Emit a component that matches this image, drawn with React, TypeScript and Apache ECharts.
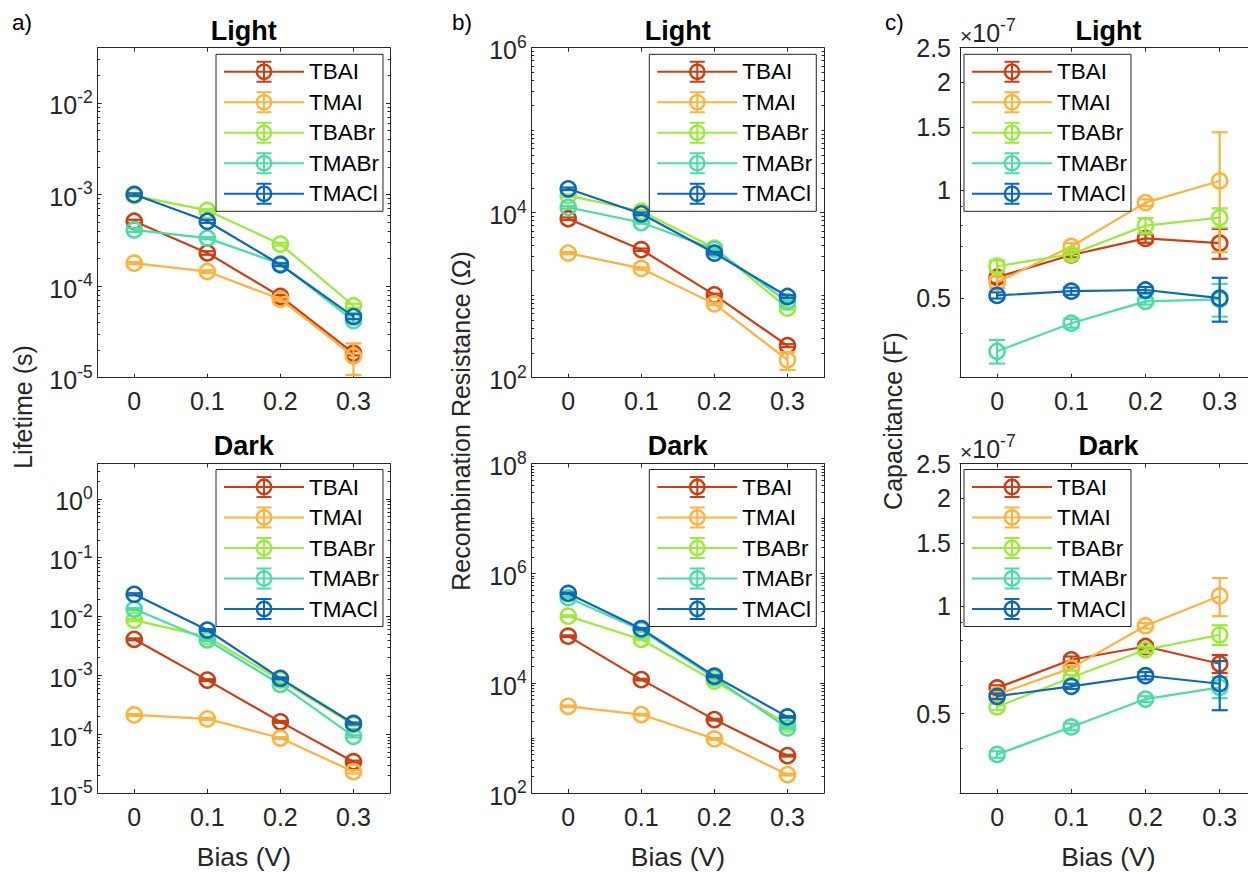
import React, { useEffect, useRef } from "react";
import * as echarts from "echarts";

// ---------- data ----------
const bias = [0, 0.1, 0.2, 0.3];
const materials = ["TBAI", "TMAI", "TBABr", "TMABr", "TMACl"];
const colors = ["#CF3E10", "#FFB23C", "#9CEA3A", "#4CDCA6", "#0C68B8"];

// Lifetime (s), rows follow `materials`
const tauLight = [
  [5.1e-4, 2.3e-4, 7.7e-5, 1.85e-5],
  [1.78e-4, 1.44e-4, 7.2e-5, 1.72e-5],
  [9.7e-4, 6.7e-4, 2.87e-4, 6.1e-5],
  [4.1e-4, 3.34e-4, 1.75e-4, 4.2e-5],
  [1.0e-3, 5.1e-4, 1.71e-4, 4.65e-5],
];
const tauLightErr = [
  [2e-5, 1e-5, 3e-6, 1e-6],
  [5e-6, 5e-6, 3e-6, 6.5e-6],
  [3e-5, 2e-5, 1e-5, 3e-6],
  [2e-5, 1e-5, 5e-6, 2e-6],
  [3e-5, 2e-5, 6e-6, 3e-6],
];
const tauDark = [
  [4.1e-3, 8.3e-4, 1.62e-4, 3.4e-5],
  [2.13e-4, 1.82e-4, 8.6e-5, 2.3e-5],
  [8.7e-3, 4.5e-3, 8.3e-4, 1.45e-4],
  [1.34e-2, 4.0e-3, 7.0e-4, 9.2e-5],
  [2.39e-2, 5.9e-3, 8.9e-4, 1.52e-4],
];
const tauDarkErr = [
  [1.5e-4, 3e-5, 6e-6, 1.5e-6],
  [8e-6, 7e-6, 3e-6, 1.5e-6],
  [4e-4, 2e-4, 3e-5, 6e-6],
  [5e-4, 1.5e-4, 3e-5, 4e-6],
  [1e-3, 2e-4, 3e-5, 6e-6],
];

// Recombination resistance (Ohm)
const rrecLight = [
  [8450, 3560, 1010, 245],
  [3240, 2110, 785, 164],
  [16100, 10400, 3730, 697],
  [11600, 7600, 3600, 838],
  [19500, 9700, 3240, 964],
];
const rrecLightErr = [
  [300, 120, 35, 10],
  [100, 70, 30, 40],
  [600, 400, 150, 25],
  [400, 250, 120, 30],
  [700, 350, 110, 35],
];
const rrecDark = [
  [71800, 11600, 2170, 479],
  [3790, 2680, 966, 216],
  [166000, 62500, 10900, 1800],
  [360000, 92500, 12500, 1530],
  [431000, 98000, 13400, 2430],
];
const rrecDarkErr = [
  [2500, 400, 80, 18],
  [130, 90, 35, 8],
  [6000, 2200, 400, 60],
  [12000, 3200, 450, 50],
  [15000, 3500, 480, 80],
];

// Capacitance (x 1e-7 F)
const capLight = [
  [0.572, 0.66, 0.734, 0.712],
  [0.554, 0.697, 0.924, 1.062],
  [0.614, 0.663, 0.797, 0.839],
  [0.3555, 0.4257, 0.49, 0.496],
  [0.509, 0.523, 0.527, 0.5],
];
const capLightErr = [
  [0.02, 0.01, 0.02, 0.068],
  [0.02, 0.015, 0.02, 0.39],
  [0.023, 0.02, 0.04, 0.052],
  [0.027, 0.012, 0.01, 0.052],
  [0.01, 0.012, 0.01, 0.07],
];
const capDark = [
  [0.59, 0.707, 0.77, 0.689],
  [0.565, 0.67, 0.88, 1.066],
  [0.522, 0.631, 0.754, 0.83],
  [0.3844, 0.459, 0.549, 0.592],
  [0.559, 0.596, 0.638, 0.606],
];
const capDarkErr = [
  [0.01, 0.015, 0.015, 0.04],
  [0.01, 0.01, 0.015, 0.13],
  [0.01, 0.01, 0.015, 0.053],
  [0.008, 0.01, 0.01, 0.04],
  [0.01, 0.01, 0.015, 0.095],
];

// tick labels
const xTicks = [0, 0.1, 0.2, 0.3];
const tauLightTicks = [1e-5, 1e-4, 1e-3, 1e-2];
const tauDarkTicks = [1e-5, 1e-4, 1e-3, 1e-2, 1e-1, 1];
const rrecLightTicks = [1e2, 1e4, 1e6];
const rrecDarkTicks = [1e2, 1e4, 1e6, 1e8];
const capTicks = [0.5, 1, 1.5, 2, 2.5];
const capMinorTicks = [0.3, 0.4, 0.6, 0.7, 0.8, 0.9];

// ---------- style ----------
const FONT = '"Liberation Sans", Arial, Helvetica, sans-serif';
const AX = "#262626";

const ERR_ICON =
  "path://M0 10L80 10L80 12L0 12Z" +
  "M39 0L41 0L41 22L39 22Z" +
  "M32.5 0L47.5 0L47.5 2L32.5 2Z" +
  "M32.5 20L47.5 20L47.5 22L32.5 22Z" +
  "M48.4 11A8.4 8.4 0 1 1 31.6 11A8.4 8.4 0 1 1 48.4 11Z" +
  "M46 11A6 6 0 1 0 34 11A6 6 0 1 0 46 11Z";

function logMinors(min: number, max: number, majors: number[]) {
  const out: number[] = [];
  for (let e = Math.floor(Math.log10(min)); e <= Math.ceil(Math.log10(max)); e++) {
    for (let m = 1; m <= 9; m++) {
      const v = m * Math.pow(10, e);
      if (v >= min * 0.999 && v <= max * 1.001 && !majors.some((t) => Math.abs(t - v) / t < 1e-6)) out.push(v);
    }
  }
  return out;
}

const columns = [
  { left: 97.7, width: 292.3, letter: "a)", letterX: 12, ylabel: "Lifetime (s)", ylabelX: 22.5, ylabelY: 407, legendLeft: 216 },
  { left: 531.7, width: 292.3, letter: "b)", letterX: 452, ylabel: "Recombination Resistance (\u03A9)", ylabelX: 461, ylabelY: 421, legendLeft: 649.3 },
  { left: 960, width: 296.8, letter: "c)", letterX: 885, ylabel: "Capacitance (F)", ylabelX: 892.5, ylabelY: 421, legendLeft: 964 },
];
const rows = [
  { top: 47.7, height: 330, titleY: 30.5, legendTop: 54.3 },
  { top: 463.5, height: 329.5, titleY: 446, legendTop: 469.5 },
];

const panels = [
  { col: 0, row: 0, title: "Light", vals: tauLight, errs: tauLightErr, min: 1e-5, max: 0.04, labels: tauLightTicks, exp: true },
  { col: 0, row: 1, title: "Dark", vals: tauDark, errs: tauDarkErr, min: 1e-5, max: 4, labels: tauDarkTicks, exp: true },
  { col: 1, row: 0, title: "Light", vals: rrecLight, errs: rrecLightErr, min: 1e2, max: 1e6, labels: rrecLightTicks, exp: true },
  { col: 1, row: 1, title: "Dark", vals: rrecDark, errs: rrecDarkErr, min: 1e2, max: 1e8, labels: rrecDarkTicks, exp: true },
  { col: 2, row: 0, title: "Light", vals: capLight, errs: capLightErr, min: 0.3, max: 2.5, labels: capTicks, exp: false },
  { col: 2, row: 1, title: "Dark", vals: capDark, errs: capDarkErr, min: 0.3, max: 2.5, labels: capTicks, exp: false },
];

const richExp = {
  b: { fontSize: 25, fontFamily: FONT, color: AX, lineHeight: 30, verticalAlign: "bottom" },
  s: { fontSize: 17.5, fontFamily: FONT, color: AX, lineHeight: 18, verticalAlign: "top" },
  m: { fontSize: 21, fontFamily: FONT, color: AX, lineHeight: 30, verticalAlign: "bottom" },
};

function buildOption() {
  const grid: any[] = [];
  const xAxis: any[] = [];
  const yAxis: any[] = [];
  const series: any[] = [];
  const legend: any[] = [];
  const title: any[] = [];

  panels.forEach((p, g) => {
    const c = columns[p.col];
    const r = rows[p.row];
    grid.push({ left: c.left, top: r.top, width: c.width, height: r.height, containLabel: false, outerBoundsMode: "none" });

    const xBase = {
      gridIndex: g, type: "value", min: -0.05, max: 0.35,
      splitLine: { show: false },
      axisLine: { show: true, onZero: false, lineStyle: { color: AX, width: 1 } },
      axisTick: { show: true, inside: true, length: 4, customValues: xTicks, lineStyle: { color: AX, width: 1 } },
    };
    xAxis.push({
      ...xBase, position: "bottom",
      axisLabel: { show: true, customValues: xTicks, formatter: (v: number) => String(v), margin: 11, fontSize: 25, fontFamily: FONT, color: AX },
      name: p.row === 1 ? "Bias (V)" : "",
      nameLocation: "middle", nameGap: 50,
      nameTextStyle: { fontSize: 26.5, fontFamily: FONT, color: AX },
    });
    xAxis.push({ ...xBase, position: "top", axisLabel: { show: false } });

    const majors = p.labels;
    const minors = p.exp ? logMinors(p.min, p.max, majors) : capMinorTicks;
    const yBase = { gridIndex: g, type: "log", logBase: 10, min: p.min, max: p.max, splitLine: { show: false } };
    yAxis.push({
      ...yBase, position: "left",
      axisLine: { show: true, onZero: false, lineStyle: { color: AX, width: 1 } },
      axisTick: { show: true, inside: true, length: 4, customValues: majors, lineStyle: { color: AX } },
      axisLabel: {
        show: true, customValues: p.labels, margin: p.exp ? 5 : 9,
        fontSize: 25, fontFamily: FONT, color: AX,
        formatter: p.exp ? (v: number) => `{b|10}{s|${Math.round(Math.log10(v))}}` : (v: number) => String(v),
        rich: richExp,
      },
      name: p.exp ? "" : "{m|\u00D7}{b|10}{s|-7}",
      nameLocation: "end", nameGap: 2,
      nameTextStyle: { align: "left", verticalAlign: "bottom", rich: richExp, fontSize: 25, fontFamily: FONT, color: AX },
    });
    yAxis.push({
      ...yBase, position: "right",
      axisLine: { show: true, onZero: false, lineStyle: { color: AX, width: 1 } },
      axisTick: { show: true, inside: true, length: 4, customValues: majors, lineStyle: { color: AX } },
      axisLabel: { show: false },
    });
    ["left", "right"].forEach((pos) => {
      yAxis.push({
        ...yBase, position: pos,
        axisLine: { show: false, onZero: false },
        axisTick: { show: true, inside: true, length: 2.5, customValues: minors, lineStyle: { color: AX } },
        axisLabel: { show: false },
      });
    });

    materials.forEach((name, i) => {
      const col = colors[i];
      series.push({
        type: "custom", name: name + " error", xAxisIndex: 2 * g, yAxisIndex: 4 * g, z: 3 + i,
        silent: true,
        encode: { x: 0, y: [1, 2] },
        data: bias.map((b, k) => [b, p.vals[i][k] - p.errs[i][k], p.vals[i][k] + p.errs[i][k]]),
        renderItem: (params: any, api: any) => {
          const x = api.value(0);
          const a = api.coord([x, api.value(1)]);
          const t = api.coord([x, api.value(2)]);
          const hw = 8;
          const st = { stroke: col, lineWidth: 2.2, fill: null };
          return {
            type: "group",
            children: [
              { type: "line", shape: { x1: a[0], y1: a[1], x2: t[0], y2: t[1] }, style: st },
              { type: "line", shape: { x1: a[0] - hw, y1: a[1], x2: a[0] + hw, y2: a[1] }, style: st },
              { type: "line", shape: { x1: t[0] - hw, y1: t[1], x2: t[0] + hw, y2: t[1] }, style: st },
            ],
          };
        },
      });
      series.push({
        type: "line", name, xAxisIndex: 2 * g, yAxisIndex: 4 * g, z: 3 + i,
        data: bias.map((b, k) => [b, p.vals[i][k]]),
        symbol: "circle", symbolSize: 15,
        itemStyle: { color: "rgba(255,255,255,0)", borderColor: col, borderWidth: 2.6 },
        lineStyle: { color: col, width: 2.2 },
        emphasis: { disabled: true },
        silent: true,
      });
    });

    legend.push({
      left: c.legendLeft, top: r.legendTop, orient: "vertical",
      itemWidth: 80, itemHeight: 22, itemGap: 7.5, padding: [6, 4, 6, 8],
      backgroundColor: "#ffffff", borderColor: AX, borderWidth: 1, borderRadius: 0,
      selectedMode: false, z: 20,
      textStyle: { fontSize: 22.5, fontFamily: FONT, color: "#000" },
      data: materials.map((n, i) => ({ name: n, icon: ERR_ICON, itemStyle: { color: colors[i], borderWidth: 0 } })),
    });

    title.push({
      text: p.title, left: c.left + c.width / 2, top: r.titleY, textAlign: "center", textVerticalAlign: "middle", padding: 0,
      textStyle: { fontSize: 27, fontWeight: "bold", fontFamily: FONT, color: "#000" },
    });
  });

  const graphic: any[] = [];
  columns.forEach((c) => {
    graphic.push({
      type: "text", x: c.letterX, y: 22, z: 30,
      style: { text: c.letter, fontSize: 22.5, fontFamily: FONT, fill: "#000", align: "left", textAlign: "left", verticalAlign: "middle", textVerticalAlign: "middle" },
    });
    graphic.push({
      type: "text", x: c.ylabelX, y: c.ylabelY, rotation: Math.PI / 2, z: 30,
      style: { text: c.ylabel, fontSize: 25, fontFamily: FONT, fill: AX, align: "center", textAlign: "center", verticalAlign: "middle", textVerticalAlign: "middle" },
    });
  });

  return {
    animation: false,
    backgroundColor: "#ffffff",
    textStyle: { fontFamily: FONT },
    grid, xAxis, yAxis, series, legend, title, graphic,
  };
}

export default function App() {
  const ref = useRef<HTMLDivElement>(null);
  useEffect(() => {
    const chart = echarts.init(ref.current as HTMLDivElement, undefined, { renderer: "svg" });
    chart.setOption(buildOption() as any);
    return () => chart.dispose();
  }, []);
  return (
    <div
      ref={ref}
      style={{ position: "fixed", left: 0, top: 0, width: 1248, height: 872, background: "#fff" }}
    />
  );
}
